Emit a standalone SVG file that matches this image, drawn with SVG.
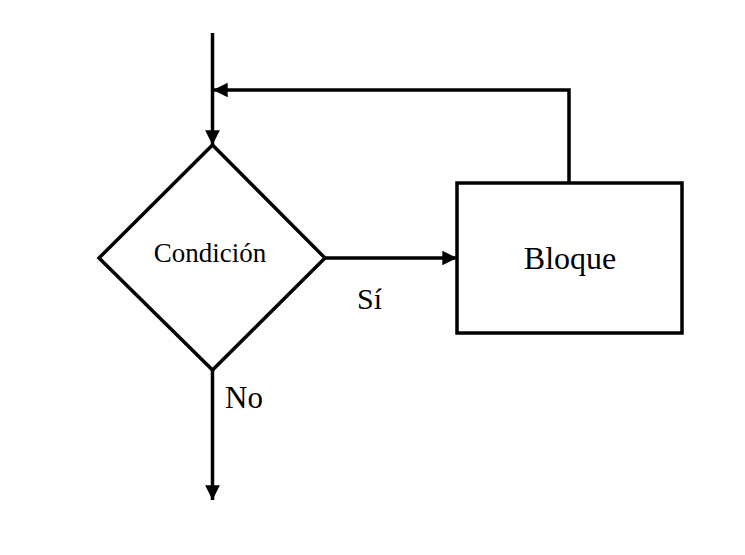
<svg xmlns="http://www.w3.org/2000/svg" width="745" height="555" viewBox="0 0 745 555">
<style>
.s{fill:none;stroke:#000;stroke-width:3.5;stroke-linejoin:miter}
.t{font-family:"Liberation Serif","Times New Roman",serif;fill:#000}
</style>
<defs>
<marker id="ah" viewBox="0 0 10 10" refX="10" refY="5" markerWidth="4.2" markerHeight="4.6" markerUnits="strokeWidth" orient="auto">
<path d="M0,0 L10,5 L0,10 Z" fill="#000"/>
</marker>
</defs>
<rect width="745" height="555" fill="#fff"/>
<g id="connectors">
<line class="s" x1="212.5" y1="33" x2="212.5" y2="145" marker-end="url(#ah)"/>
<polyline class="s" points="569,182 569,90 213,90" marker-end="url(#ah)"/>
<line class="s" x1="325" y1="258" x2="457" y2="258" marker-end="url(#ah)"/>
<line class="s" x1="212.5" y1="370" x2="212.5" y2="500" marker-end="url(#ah)"/>
<text class="t" x="357" y="309" font-size="30">Sí</text>
<text class="t" x="225" y="408" font-size="31">No</text>
</g>
<g id="condicion">
<polygon class="s" points="212.5,145 325,258 212.5,370 99,258"/>
<text class="t" x="210" y="262" font-size="27" text-anchor="middle">Condición</text>
</g>
<g id="bloque">
<rect class="s" x="457" y="183" width="225" height="150"/>
<text class="t" x="570" y="269" font-size="32" text-anchor="middle">Bloque</text>
</g>
</svg>
